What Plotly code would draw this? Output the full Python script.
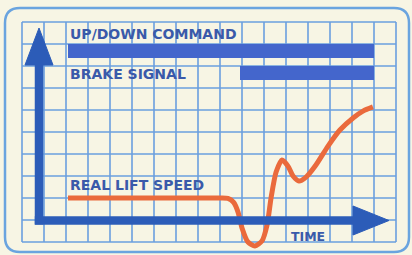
import plotly.graph_objects as go

# ---- data (grid units: one cell = 1) ----
time_grid = list(range(0, 18))     # vertical grid lines
level_grid = list(range(0, 11))    # horizontal grid lines

signal_names = ["UP/DOWN COMMAND", "BRAKE SIGNAL"]
signal_start = [2.09, 9.91]
signal_end = [16.0, 16.0]
signal_level = [8.68, 7.68]

speed_label = "REAL LIFT SPEED"
time_label = "TIME"
speed_t = [2.09, 6.0, 9.0, 9.36, 9.62, 9.82, 10.0, 10.27, 10.59, 10.91, 11.14, 11.32, 11.55,
           11.82, 12.09, 12.32, 12.59, 12.91, 13.36, 13.91, 14.45, 15.05, 15.5, 15.95]
speed_v = [2.0, 2.0, 2.0, 1.98, 1.8, 1.36, 0.64, 0.0, -0.18, 0.05, 0.77, 2.0, 3.18,
           3.73, 3.45, 3.0, 2.77, 2.95, 3.5, 4.36, 5.09, 5.64, 5.95, 6.14]

# ---- styles ----
BG = "#f7f5e4"
GRID = "#6a9fdf"
DARK = "#2c5cb8"
BAR = "#4466cc"
TEXT = "#3a5aaa"
ORANGE = "#ea6a3c"
BORDER = "#6aa4df"

W, H = 412, 255
CELL = 22.0
X0, Y0 = 22.0, 242.0  # pixel of grid origin


def pu(px):
    return (px - X0) / CELL


def pv(py):
    return (Y0 - py) / CELL


fig = go.Figure()

shapes = []
# card border (rounded rectangle)
l, r, t, b = pu(5), pu(409), pv(8), pv(252)
rad = radv = 15 / CELL
path = (f"M {l+rad},{t} L {r-rad},{t} Q {r},{t} {r},{t-radv} L {r},{b+radv} "
        f"Q {r},{b} {r-rad},{b} L {l+rad},{b} Q {l},{b} {l},{b+radv} "
        f"L {l},{t-radv} Q {l},{t} {l+rad},{t} Z")
shapes.append(dict(type="path", path=path, xref="x", yref="y",
                   line=dict(color=BORDER, width=2.5), fillcolor="rgba(0,0,0,0)", layer="below"))

# grid
for g in time_grid:
    shapes.append(dict(type="line", xref="x", yref="y", x0=g, x1=g,
                       y0=level_grid[0], y1=level_grid[-1],
                       line=dict(color=GRID, width=1.6), layer="below"))
for g in level_grid:
    shapes.append(dict(type="line", xref="x", yref="y", y0=g, y1=g,
                       x0=time_grid[0], x1=time_grid[-1],
                       line=dict(color=GRID, width=1.6), layer="below"))

# axes arrows (drawn above the curve)
ax_u = pu(39)
ax_v = pv(220.5)
shapes.append(dict(type="line", xref="x", yref="y", x0=ax_u, x1=ax_u,
                   y0=pv(224.5), y1=pv(62), line=dict(color=DARK, width=8.5), layer="above"))
shapes.append(dict(type="path", xref="x", yref="y",
                   path=f"M {pu(25)},{pv(65)} L {pu(53)},{pv(65)} L {ax_u},{pv(28)} Z",
                   fillcolor=DARK, line=dict(color=DARK, width=1), layer="above"))
shapes.append(dict(type="line", xref="x", yref="y", x0=pu(34.8), x1=pu(356),
                   y0=ax_v, y1=ax_v, line=dict(color=DARK, width=8.5), layer="above"))
shapes.append(dict(type="path", xref="x", yref="y",
                   path=f"M {pu(353)},{pv(206)} L {pu(353)},{pv(235)} L {pu(389)},{ax_v} Z",
                   fillcolor=DARK, line=dict(color=DARK, width=1), layer="above"))

# signal bars
fig.add_trace(go.Bar(
    orientation="h",
    y=signal_level,
    x=[e - s for s, e in zip(signal_start, signal_end)],
    base=signal_start,
    width=0.6,
    marker=dict(color=BAR, line=dict(width=0)),
    hoverinfo="skip",
    showlegend=False,
))

# speed curve
fig.add_trace(go.Scatter(
    x=speed_t, y=speed_v, mode="lines",
    line=dict(color=ORANGE, width=5, shape="spline", smoothing=0.7),
    hoverinfo="skip", showlegend=False,
))

font = dict(family="DejaVu Sans", size=14, color=TEXT, weight="bold")
annotations = [
    dict(x=signal_start[0], y=pv(33.5), text=signal_names[0]),
    dict(x=signal_start[0], y=pv(73.5), text=signal_names[1]),
    dict(x=signal_start[0], y=pv(185), text=speed_label),
]
annotations = [dict(a, xref="x", yref="y", xanchor="left", yanchor="middle",
                    showarrow=False, font=font) for a in annotations]
annotations.append(dict(x=pu(308), y=pv(236), text=time_label, xref="x", yref="y",
                        xanchor="center", yanchor="middle", showarrow=False,
                        font=dict(font, size=12.5)))

fig.update_layout(
    width=W, height=H,
    margin=dict(l=0, r=0, t=0, b=0),
    paper_bgcolor=BG, plot_bgcolor=BG,
    xaxis=dict(range=[pu(0), pu(W)], visible=False, fixedrange=True),
    yaxis=dict(range=[pv(H), pv(0)], visible=False, fixedrange=True),
    shapes=shapes,
    annotations=annotations,
    bargap=0,
)

fig.write_html("out.html", config=dict(displayModeBar=False),
               post_script="document.body.style.margin='0px';document.body.style.overflow='hidden';")
